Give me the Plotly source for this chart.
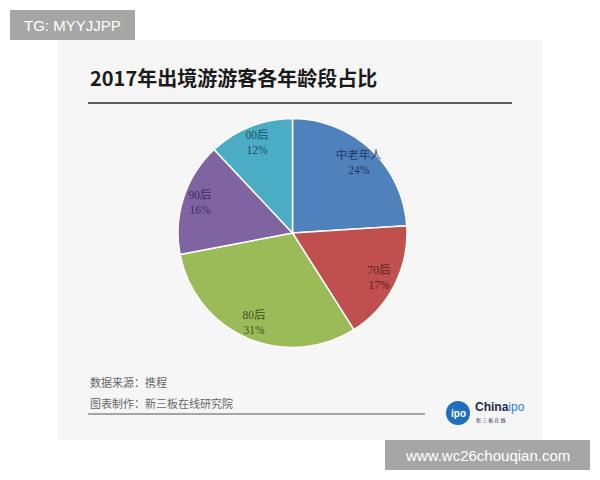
import math
import plotly.graph_objects as go

W, H = 600, 480

categories = ["中老年人", "70后", "80后", "90后", "00后"]
values = [24, 17, 31, 16, 12]
slice_colors = ["#4f81bd", "#c0504d", "#9bbb59", "#8064a2", "#4bacc6"]
label_colors = ["#1f3864", "#5c1e1c", "#3d4f1c", "#3b2a5c", "#1c4d5c"]

title_text = "2017年出境游游客各年龄段占比"
source_text = "数据来源：携程"
maker_text = "图表制作：新三板在线研究院"

# pie geometry (pixels)
cx, cy, R = 292.5, 233, 114.5

def px(x):
    return x / W

def py(y):
    return 1 - y / H

fig = go.Figure()
fig.add_trace(go.Pie(
    labels=categories,
    values=values,
    sort=False,
    direction="clockwise",
    rotation=0,
    marker=dict(colors=slice_colors, line=dict(color="white", width=1.5)),
    textinfo="none",
    hoverinfo="label+percent",
    showlegend=False,
    domain=dict(x=[px(cx - R), px(cx + R)], y=[py(cy + R), py(cy - R)]),
))

annotations = []
total = sum(values)
cum = 0
for cat, v, col in zip(categories, values, label_colors):
    mid = (cum + v / 2) / total * 2 * math.pi
    cum += v
    r = 0.85 * R
    lx = cx + r * math.sin(mid)
    ly = cy - r * math.cos(mid)
    annotations.append(dict(
        x=px(lx), y=py(ly), xref="paper", yref="paper",
        xanchor="center", yanchor="middle",
        text=f"{cat}<br>{round(v / total * 100)}%",
        showarrow=False, width=70,
        font=dict(family="Liberation Serif, Noto Sans CJK SC", size=11.5, color=col),
        align="center",
    ))

annotations += [
    dict(x=px(88), y=py(78), xref="paper", yref="paper", xanchor="left", yanchor="middle",
         text="<b>" + title_text + "</b>", showarrow=False,
         font=dict(family="Noto Sans CJK SC", size=20, color="#1a1a1a")),
    dict(x=px(88), y=py(382), xref="paper", yref="paper", xanchor="left", yanchor="middle",
         text=source_text, showarrow=False,
         font=dict(family="Noto Sans CJK SC", size=11, color="#666666")),
    dict(x=px(88), y=py(403), xref="paper", yref="paper", xanchor="left", yanchor="middle",
         text=maker_text, showarrow=False,
         font=dict(family="Noto Sans CJK SC", size=11, color="#666666")),
    # logo text
    dict(x=px(458), y=py(413), xref="paper", yref="paper", xanchor="center", yanchor="middle",
         text="<b>ipo</b>", showarrow=False,
         font=dict(family="Liberation Sans", size=10, color="white")),
    dict(x=px(473), y=py(407), xref="paper", yref="paper", xanchor="left", yanchor="middle",
         text="<b>China</b><span style='color:#2a7fd4'>ipo</span>", showarrow=False,
         font=dict(family="Liberation Sans", size=12, color="#1b2a4a")),
    dict(x=px(474), y=py(420), xref="paper", yref="paper", xanchor="left", yanchor="middle",
         text="新 三 板 在 线", showarrow=False,
         font=dict(family="Noto Sans CJK SC", size=5, color="#1b2a4a")),
    # watermark boxes
    dict(x=px(72.5), y=py(25), xref="paper", yref="paper", xanchor="center", yanchor="middle",
         text="TG: MYYJJPP", showarrow=False,
         font=dict(family="Liberation Sans", size=15, color="white")),
    dict(x=px(487.5), y=py(455), xref="paper", yref="paper", xanchor="center", yanchor="middle",
         text="www.wc26chouqian.com", showarrow=False,
         font=dict(family="Liberation Sans", size=15, color="white")),
]

shapes = [
    dict(type="rect", xref="paper", yref="paper", x0=px(58), x1=px(542), y0=py(440), y1=py(40),
         fillcolor="#f6f6f6", line=dict(width=0), layer="below"),
    dict(type="line", xref="paper", yref="paper", x0=px(88), x1=px(512), y0=py(103), y1=py(103),
         line=dict(color="#2b2b2b", width=1.5)),
    dict(type="line", xref="paper", yref="paper", x0=px(88), x1=px(425), y0=py(414), y1=py(414),
         line=dict(color="#555555", width=1.2)),
    dict(type="circle", xref="paper", yref="paper", x0=px(446), x1=px(470), y0=py(425), y1=py(401),
         fillcolor="#1e6fc0", line=dict(width=0)),
    dict(type="rect", xref="paper", yref="paper", x0=px(10), x1=px(135), y0=py(40), y1=py(10),
         fillcolor="#a6a6a6", line=dict(width=0)),
    dict(type="rect", xref="paper", yref="paper", x0=px(385), x1=px(590), y0=py(470), y1=py(440),
         fillcolor="#a6a6a6", line=dict(width=0)),
]

fig.update_layout(
    width=W, height=H,
    margin=dict(l=0, r=0, t=0, b=0),
    paper_bgcolor="white",
    plot_bgcolor="white",
    annotations=annotations,
    shapes=shapes,
)

fig.write_html("out.html", config={"displayModeBar": False},
               post_script="document.body.style.margin='0';")
